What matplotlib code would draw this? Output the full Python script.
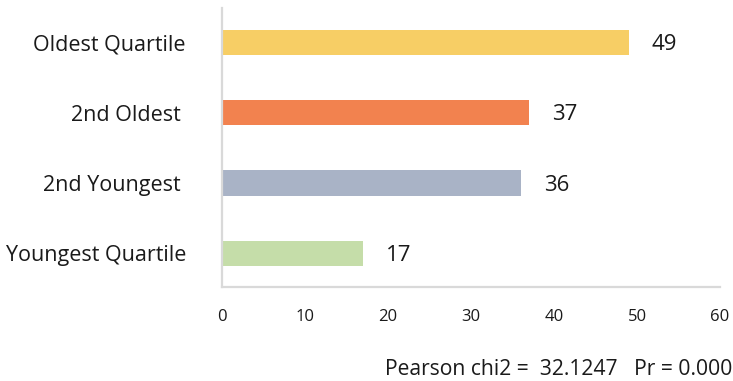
import matplotlib.pyplot as plt

categories = ["Youngest Quartile", "2nd Youngest ", "2nd Oldest ", "Oldest Quartile"]
values = [17, 36, 37, 49]
colors = ["#C5DDA9", "#A9B3C6", "#F2824F", "#F7CE65"]
x_ticks = [0, 10, 20, 30, 40, 50, 60]
note = "Pearson chi2 =  32.1247   Pr = 0.000"

plt.rcParams['font.family'] = ['Open Sans', 'DejaVu Sans']

fig = plt.figure(figsize=(7.33, 3.81), dpi=100)
ax = fig.add_axes([0.3029, 0.2467, 0.6794, 0.7323])

ypos = range(len(categories))
ax.barh(ypos, values, height=0.36, color=colors)

for y, v in zip(ypos, values):
    ax.annotate(str(v), (v, y), xytext=(16.5, -1.5), textcoords='offset points',
                ha='left', va='center', fontsize=16, color='#1a1a1a')

ax.set_xlim(0, 60)
ax.set_ylim(-0.48, 3.49)
ax.set_xticks(x_ticks)
ax.set_xticklabels([str(t) for t in x_ticks], fontsize=12, color='#1a1a1a')
ax.set_yticks(list(ypos))
ax.set_yticklabels(categories, fontsize=15.5, color='#1a1a1a')
ax.tick_params(axis='both', length=0)
ax.tick_params(axis='y', pad=26)
ax.tick_params(axis='x', pad=16)

for side in ['top', 'right']:
    ax.spines[side].set_visible(False)
for side in ['left', 'bottom']:
    ax.spines[side].set_color('#d9d9d9')
    ax.spines[side].set_linewidth(1.6)

fig.text(0.999, 0.03, note, ha='right', va='center', fontsize=15.2, color='#1a1a1a')

fig.savefig("out.png", dpi=100)
